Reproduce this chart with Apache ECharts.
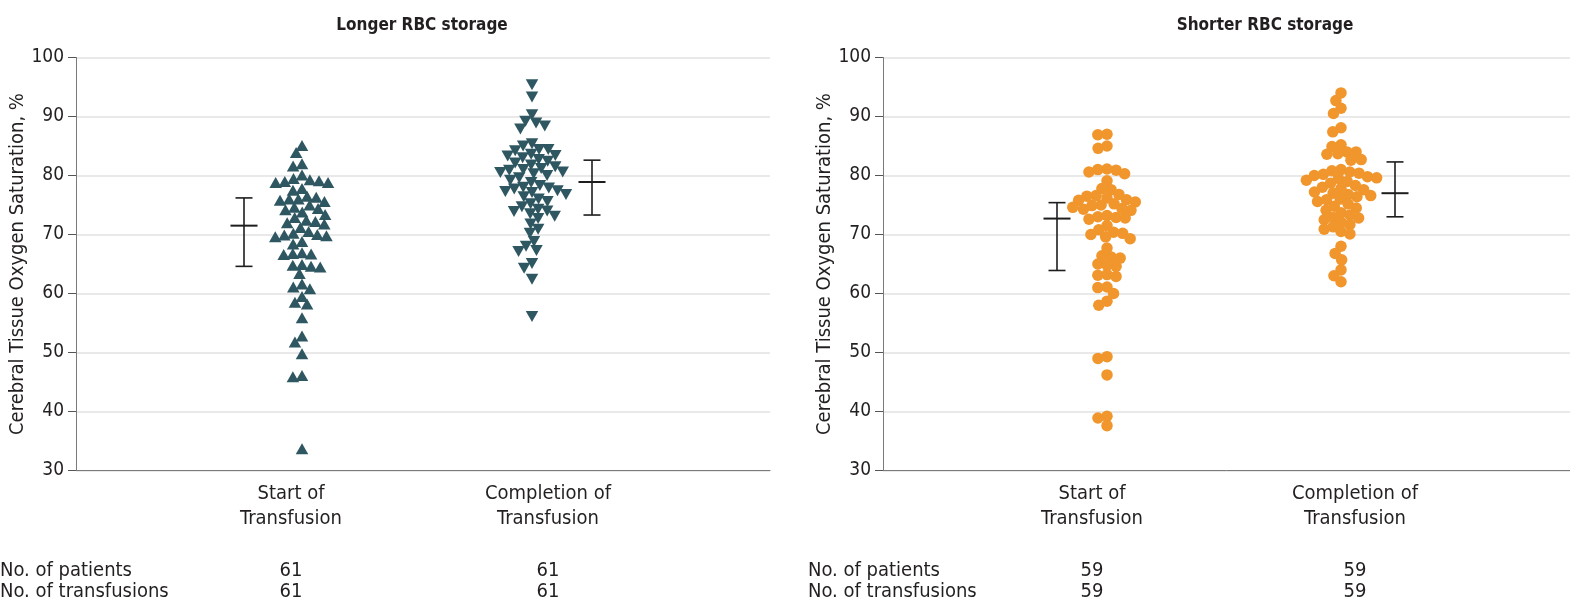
<!DOCTYPE html>
<html>
<head>
<meta charset="utf-8">
<script src="https://cdn.jsdelivr.net/npm/echarts@6/dist/echarts.min.js"></script>
<style>html,body{margin:0;padding:0;background:#fff}#c{width:1570px;height:604px}</style>
</head>
<body>
<div id="c"></div>
<script>
// ---------------- data ----------------
const panelTitles = ['Longer RBC storage', 'Shorter RBC storage'];
const categories = ['Start of\nTransfusion', 'Completion of\nTransfusion'];
const yTicks = [30, 40, 50, 60, 70, 80, 90, 100];
const yAxisName = 'Cerebral Tissue Oxygen Saturation, %';
const rowLabels = ['No. of patients', 'No. of transfusions'];
const longerPatients = [61, 61];
const longerTransfusions = [61, 61];
const shorterPatients = [59, 59];
const shorterTransfusions = [59, 59];

const longerStart = [
  85.1, 83.9, 82.0, 81.6,
  80.1, 79.5, 79.3, 79.0, 79.1, 78.8, 78.8,
  77.8, 77.5,
  76.5, 76.3, 76.0, 76.0, 75.8, 75.6,
  75.0, 74.6, 74.4, 74.2, 73.8,
  73.4, 72.9, 72.4, 72.2, 72.0, 71.8,
  71.2, 70.5, 70.2, 70.0, 69.8, 69.6, 69.9,
  68.8, 68.4,
  66.9, 66.7, 66.6, 66.8,
  64.8, 64.5, 63.4, 64.6, 64.9, 61.1, 60.8, 61.6, 59.5, 58.2, 58.5,
  55.9, 52.8, 51.8, 49.8, 46.1, 45.9, 33.7
];
const longerCompletion = [
  95.4, 93.3, 90.3, 88.9, 87.9, 88.4, 89.2, 85.4, 84.4, 84.4, 85.0, 84.2,
  83.6, 83.3, 83.0, 82.7, 82.4, 82.1, 81.8, 83.4,
  81.5, 81.2, 80.9, 80.6, 80.3, 80.0, 81.0, 80.5,
  79.6, 79.2, 78.8,
  78.3, 78.0, 77.7, 77.4, 77.1, 76.8, 77.9, 77.3,
  76.4, 76.0, 75.6, 75.2,
  74.7, 74.3, 73.9, 73.5, 73.1, 72.7, 74.0,
  71.8, 70.9, 70.2, 68.0, 67.1, 67.3, 68.8, 65.1, 64.3, 62.4, 56.1
];
const shorterStart = [
  87.0, 86.9, 85.0, 84.6,
  80.9, 81.1, 81.0, 80.6, 80.3,
  79.1, 77.8, 77.6,
  76.8, 76.5, 76.2, 75.8, 75.5, 75.2, 74.9, 74.6, 74.3, 74.1, 76.6, 75.9, 75.0, 74.4,
  73.0, 72.8, 72.6, 72.9, 73.2,
  71.5, 70.8, 70.4, 70.0, 69.6, 69.3, 70.2,
  67.7, 66.0, 66.4, 66.2,
  65.0, 64.6, 63.2, 62.9, 63.1, 64.8,
  61.1, 61.0, 60.0, 58.0, 58.7,
  49.0, 49.3, 46.2,
  39.2, 38.9, 37.6
];
const shorterCompletion = [
  94.0, 92.7, 91.4, 90.5, 88.1, 87.4,
  85.2, 84.0, 84.0, 82.7, 84.9, 83.7, 83.6, 82.6,
  81.0, 80.6, 80.2, 79.8, 79.5, 79.2, 80.8, 80.4, 80.0, 79.6, 79.0, 78.7,
  78.3, 78.0, 77.6, 77.2, 76.8, 76.4, 76.0, 75.6, 75.2, 77.8, 77.0, 76.6, 75.9, 74.8, 74.5,
  74.1, 73.7, 73.3, 72.9, 72.5, 72.1, 71.7, 71.3, 70.9, 70.5, 70.1, 72.8,
  68.0, 66.8, 65.7, 64.0, 63.0, 62.0
];
// error bars: [low, mean, high]
const longerStartBar = [64.6, 71.5, 76.2];
const longerCompletionBar = [73.3, 78.9, 82.6];
const shorterStartBar = [63.9, 72.7, 75.4];
const shorterCompletionBar = [73.0, 77.0, 82.3];

// ---------------- layout ----------------
const FONT = '"Liberation Sans Narrow", "DejaVu Sans Condensed", sans-serif';
const TEXT = '#231f20';
const TEAL = '#2f5762';
const ORANGE = '#f0962c';
const G = [
  {left: 76, width: 694, top: 57.5, height: 413},
  {left: 883, width: 687, top: 57.5, height: 413}
];
const labelX = [[215, 472], [209, 472]];
const swarmX = [[226, 456], [224, 458]];
const barX = [[168, 516], [174, 512]];
const pxPerUnit = 413 / 70;
const D = 9.2;

function swarm(values, center) {
  const idx = values.map((v, i) => i).sort((a, b) => values[b] - values[a]);
  const placed = [];
  const out = new Array(values.length);
  for (const i of idx) {
    const y = values[i] * pxPerUnit;
    const cands = [0];
    for (const p of placed) {
      const dy = Math.abs(p.y - y);
      if (dy < D) {
        const dx = Math.sqrt(D * D - dy * dy);
        cands.push(p.x + dx, p.x - dx);
      }
    }
    cands.sort((a, b) => Math.abs(a) - Math.abs(b) || a - b);
    let best = 0;
    for (const c of cands) {
      if (placed.every(p => (p.x - c) ** 2 + (p.y - y) ** 2 >= D * D - 1e-6)) { best = c; break; }
    }
    placed.push({x: best, y});
    out[i] = [center + best, values[i]];
  }
  return out;
}

const groups = [
  [longerStart, longerCompletion],
  [shorterStart, shorterCompletion]
];
const bars = [
  [longerStartBar, longerCompletionBar],
  [shorterStartBar, shorterCompletionBar]
];

const grids = [], xAxes = [], yAxes = [], series = [];
for (let p = 0; p < 2; p++) {
  grids.push({left: G[p].left, top: G[p].top, width: G[p].width, height: G[p].height});
  const lookup = {};
  labelX[p].forEach((x, k) => lookup[x] = categories[k]);
  xAxes.push({
    gridIndex: p, type: 'value', min: 0, max: G[p].width,
    axisLine: {show: true, lineStyle: {color: '#7a7a7a', width: 1}},
    axisTick: {show: false},
    splitLine: {show: false},
    axisLabel: {
      show: true, customValues: labelX[p], margin: 11,
      formatter: v => lookup[v] || '',
      fontFamily: FONT, fontSize: 20, color: TEXT, lineHeight: 25
    }
  });
  yAxes.push({
    gridIndex: p, type: 'value', min: 30, max: 100, interval: 10,
    name: yAxisName, nameLocation: 'middle', nameGap: 46,
    nameTextStyle: {fontFamily: FONT, fontSize: 20, color: TEXT},
    axisLine: {show: true, lineStyle: {color: '#7a7a7a', width: 1}},
    axisTick: {show: true, length: 8, lineStyle: {color: '#555'}},
    splitLine: {show: true, lineStyle: {color: '#e2e2e2', width: 1.5}},
    axisLabel: {fontFamily: FONT, fontSize: 19, color: TEXT, margin: 12}
  });
  for (let k = 0; k < 2; k++) {
    series.push({
      type: 'scatter', xAxisIndex: p, yAxisIndex: p,
      data: swarm(groups[p][k], swarmX[p][k]),
      symbol: p === 0 ? 'triangle' : 'circle',
      symbolSize: p === 0 ? [12.5, 11] : 11.5,
      symbolRotate: (p === 0 && k === 1) ? 180 : 0,
      itemStyle: {color: p === 0 ? TEAL : ORANGE, opacity: 1},
      silent: true, animation: false
    });
  }
  series.push({
    type: 'custom', xAxisIndex: p, yAxisIndex: p, animation: false, silent: true,
    data: bars[p].map((b, k) => [barX[p][k], b[0], b[1], b[2]]),
    renderItem: (params, api) => {
      const x = api.value(0);
      const lo = api.coord([x, api.value(1)]);
      const me = api.coord([x, api.value(2)]);
      const hi = api.coord([x, api.value(3)]);
      const st = {stroke: '#1d1d1d', lineWidth: 1.6};
      const cap = 8.5, mw = 13.5;
      return {type: 'group', children: [
        {type: 'line', shape: {x1: lo[0], y1: lo[1], x2: hi[0], y2: hi[1]}, style: st},
        {type: 'line', shape: {x1: lo[0] - cap, y1: lo[1], x2: lo[0] + cap, y2: lo[1]}, style: st},
        {type: 'line', shape: {x1: hi[0] - cap, y1: hi[1], x2: hi[0] + cap, y2: hi[1]}, style: st},
        {type: 'line', shape: {x1: me[0] - mw, y1: me[1], x2: me[0] + mw, y2: me[1]}, style: {stroke: '#1d1d1d', lineWidth: 2}}
      ]};
    }
  });
}

const chart = echarts.init(document.getElementById('c'), null, {renderer: 'canvas'});
chart.setOption({
  animation: false,
  title: [
    {text: panelTitles[0], left: 417, top: 12, textAlign: 'center',
     textStyle: {fontFamily: FONT, fontSize: 17, fontWeight: 'bold', color: TEXT}},
    {text: panelTitles[1], left: 1260, top: 12, textAlign: 'center',
     textStyle: {fontFamily: FONT, fontSize: 17, fontWeight: 'bold', color: TEXT}}
  ],
  grid: grids, xAxis: xAxes, yAxis: yAxes, series: series
});

// count rows under each panel
const counts = [[longerPatients, longerTransfusions], [shorterPatients, shorterTransfusions]];
const rowLeft = [0, 808];
const rowY = [571, 592];
const gfx = [];
for (let p = 0; p < 2; p++) {
  for (let r = 0; r < 2; r++) {
    gfx.push({type: 'text', x: rowLeft[p], y: rowY[r],
      style: {text: rowLabels[r], font: '20px ' + FONT, fill: TEXT, verticalAlign: 'middle'}});
    for (let k = 0; k < 2; k++) {
      const px = chart.convertToPixel({xAxisIndex: p, yAxisIndex: p}, [labelX[p][k], 30])[0];
      gfx.push({type: 'text', x: px, y: rowY[r],
        style: {text: String(counts[p][r][k]), font: '20px ' + FONT, fill: TEXT, align: 'center', verticalAlign: 'middle'}});
    }
  }
}
chart.setOption({graphic: gfx});
</script>
</body>
</html>
